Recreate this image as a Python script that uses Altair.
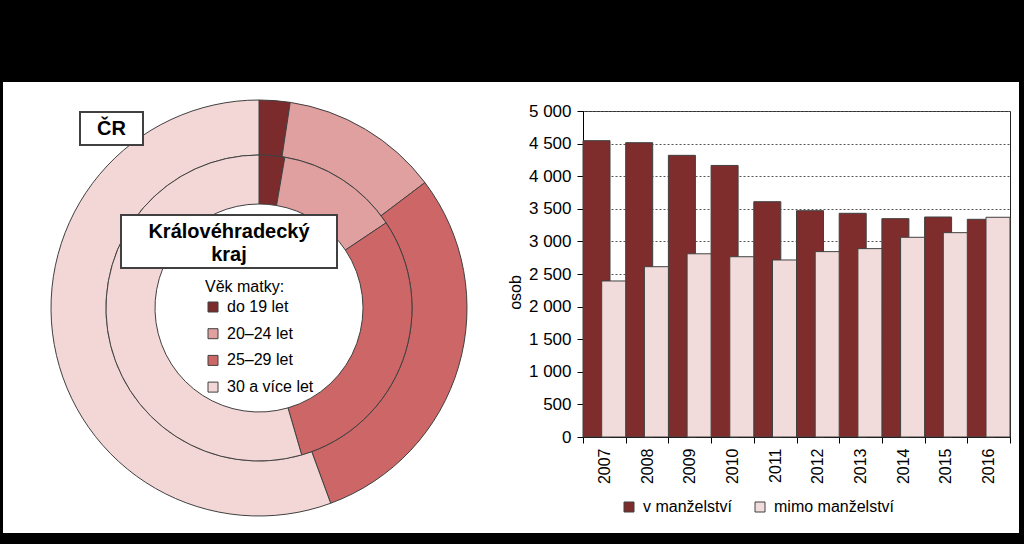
import altair as alt
import pandas as pd

# ---------------- data ----------------
YEARS = ["2007", "2008", "2009", "2010", "2011", "2012", "2013", "2014", "2015", "2016"]
IN_MARRIAGE = [4545, 4514, 4320, 4165, 3609, 3471, 3431, 3349, 3374, 3339]
OUT_MARRIAGE = [2393, 2612, 2810, 2765, 2715, 2843, 2889, 3063, 3134, 3370]
STATUS = ["v manželství", "mimo manželství"]
STATUS_COLORS = ["#7E2C2C", "#F2DCDB"]

AGE_GROUPS = ["do 19 let", "20–24 let", "25–29 let", "30 a více let"]
AGE_COLORS = ["#7B2B2B", "#DFA09F", "#CD6666", "#F2D7D6"]
CR_SHARES = [2.4, 12.3, 29.7, 55.6]      # outer ring (ČR)
KHK_SHARES = [2.7, 12.9, 29.9, 54.5]     # inner ring (Královéhradecký kraj)

Y_TICKS = [0, 500, 1000, 1500, 2000, 2500, 3000, 3500, 4000, 4500, 5000]

TITLE_LEFT = ["Graf 1.5 Živě narození podle věku matky", "v roce 2016"]
TITLE_RIGHT = ["Graf 1.6 Živě narození v manželství a mimo", "manželství v Královéhradeckém kraji"]
LABEL_CR = "ČR"
LABEL_KHK = ["Královéhradecký", "kraj"]
LEGEND_AGE_TITLE = "Věk matky:"
Y_TITLE = "osob"

FONT = "Liberation Sans"

# ---------------- layout helpers (pixel positions, relative to plot origin) ----------------
OX, OY = 583, 111          # plot-area origin on the 1024x544 canvas
PW, PH = 427, 326          # plot-area size


def px(x):
    return x - OX


def py(y):
    return y - OY


one_row = alt.Data(values=[{}])


def rect_layer(x1, x2, y1, y2, fill, stroke=None, sw=0):
    kw = dict(fill=fill, opacity=1)
    if stroke:
        kw.update(stroke=stroke, strokeWidth=sw)
    return alt.Chart(one_row).mark_rect(**kw).encode(
        x=alt.value(px(x1)), x2=alt.value(px(x2)),
        y=alt.value(py(y1)), y2=alt.value(py(y2)))


def text_layer(text, x, y, size, weight="normal", color="black", line_height=None):
    kw = dict(font=FONT, fontSize=size, fontWeight=weight, fill=color,
              align="center", baseline="middle")
    if line_height:
        kw["lineHeight"] = line_height
    return alt.Chart(one_row).mark_text(**kw).encode(
        x=alt.value(px(x)), y=alt.value(py(y)), text=alt.value(text))


# frame (black surround of the white panel)
frame = [
    rect_layer(0, 1024, 0, 82, "black"),
    rect_layer(0, 3, 0, 544, "black"),
    rect_layer(1019, 1024, 0, 544, "black"),
    rect_layer(0, 1024, 533, 544, "black"),
]

titles = [
    text_layer(TITLE_LEFT, 248, 23, 16, "bold", "#000000", 24),
    text_layer(TITLE_RIGHT, 758, 23, 16, "bold", "#000000", 24),
]

# ---------------- donut ----------------
CX, CY = 259, 308
age_scale = alt.Scale(domain=AGE_GROUPS, range=AGE_COLORS)
age_legend = alt.Legend(
    title=LEGEND_AGE_TITLE, orient="none", legendX=px(205), legendY=py(279),
    symbolType="square", symbolSize=100, symbolStrokeColor="#404040", symbolStrokeWidth=1,
    labelFont=FONT, labelFontSize=16, labelColor="black", labelOffset=6,
    titleFont=FONT, titleFontSize=16, titleFontWeight="normal", titleColor="black",
    titlePadding=4, rowPadding=10.7, padding=0)

cr_df = pd.DataFrame({"group": AGE_GROUPS, "share": CR_SHARES, "ord": list(range(len(AGE_GROUPS)))})
khk_df = pd.DataFrame({"group": AGE_GROUPS, "share": KHK_SHARES, "ord": list(range(len(AGE_GROUPS)))})

outer = alt.Chart(cr_df).mark_arc(radius=208, radius2=153, stroke="#404040", strokeWidth=1).encode(
    theta=alt.Theta("share:Q", stack=True),
    order=alt.Order("ord:Q"),
    color=alt.Color("group:N", scale=age_scale, legend=age_legend),
    x=alt.value(px(CX)), y=alt.value(py(CY)),
)
inner = alt.Chart(khk_df).mark_arc(radius=153, radius2=104, stroke="#404040", strokeWidth=1).encode(
    theta=alt.Theta("share:Q", stack=True),
    order=alt.Order("ord:Q"),
    color=alt.Color("group:N", scale=age_scale, legend=age_legend),
    x=alt.value(px(CX)), y=alt.value(py(CY)),
)
donut = alt.layer(outer, inner)

boxes = [
    rect_layer(80, 143, 112, 145, "white", "#404040", 2),
    text_layer(LABEL_CR, 111.5, 129, 20, "bold"),
    rect_layer(121, 337, 215, 268, "white", "#404040", 2),
    text_layer(LABEL_KHK, 229, 232, 20, "bold", "black", 23),
]

# ---------------- bars ----------------
bars_df = pd.DataFrame({
    "year": YEARS * 2,
    "status": [STATUS[0]] * len(YEARS) + [STATUS[1]] * len(YEARS),
    "value": IN_MARRIAGE + OUT_MARRIAGE,
})

x_enc = alt.X("year:O", scale=alt.Scale(domain=YEARS, paddingInner=0, paddingOuter=0),
              axis=alt.Axis(title=None, labelAngle=270, tickBand="extent", tickSize=6,
                            labelPadding=5, labelFont=FONT, labelFontSize=16, labelColor="black",
                            domainColor="black", tickColor="black", grid=False))
y_enc = alt.Y("value:Q", scale=alt.Scale(domain=[0, 5000], nice=False),
              axis=alt.Axis(values=Y_TICKS,
                            labelExpr="replace(format(datum.value, ','), ',', ' ')",
                            grid=True, gridDash=[2, 2], gridColor="#555555", gridWidth=1,
                            tickSize=6, tickColor="black", domainColor="black",
                            labelFont=FONT, labelFontSize=17, labelColor="black", labelPadding=6,
                            title=Y_TITLE, titleFont=FONT, titleFontSize=16,
                            titleFontWeight="normal", titleColor="black",
                            titleAngle=270, titleX=px(515), titleY=py(292),
                            titleAlign="center", titleBaseline="middle"))
c_enc = alt.Color("status:N", scale=alt.Scale(domain=STATUS, range=STATUS_COLORS),
                  legend=alt.Legend(title=None, orient="none", direction="horizontal",
                                    legendX=px(621), legendY=py(499),
                                    symbolType="square", symbolSize=100,
                                    symbolStrokeColor="#404040", symbolStrokeWidth=1,
                                    labelFont=FONT, labelFontSize=16, labelColor="black",
                                    labelOffset=6, columnPadding=20, padding=0))

band = PW / len(YEARS)
dark = alt.Chart(bars_df).transform_filter(alt.datum.status == STATUS[0]).mark_bar(
    width=27, xOffset=13.5 - band / 2, stroke="#404040", strokeWidth=1, opacity=1
).encode(x=x_enc, y=y_enc, color=c_enc)
light = alt.Chart(bars_df).transform_filter(alt.datum.status == STATUS[1]).mark_bar(
    width=24, xOffset=band / 2 - 12, stroke="#404040", strokeWidth=1, opacity=1
).encode(x=x_enc, y=y_enc, color=c_enc)
bars = alt.layer(dark, light)

chart = alt.layer(*frame, *titles, donut, *boxes, bars).resolve_scale(
    color="independent", theta="independent"
).properties(
    width=PW, height=PH,
    padding={"left": OX, "top": OY, "right": 1024 - OX - PW, "bottom": 544 - OY - PH},
    autosize=alt.AutoSizeParams(type="none"),
    background="white",
).configure_view(stroke="#262626", strokeWidth=1)

chart.save("out.html", embed_options={"renderer": "svg", "actions": False})
